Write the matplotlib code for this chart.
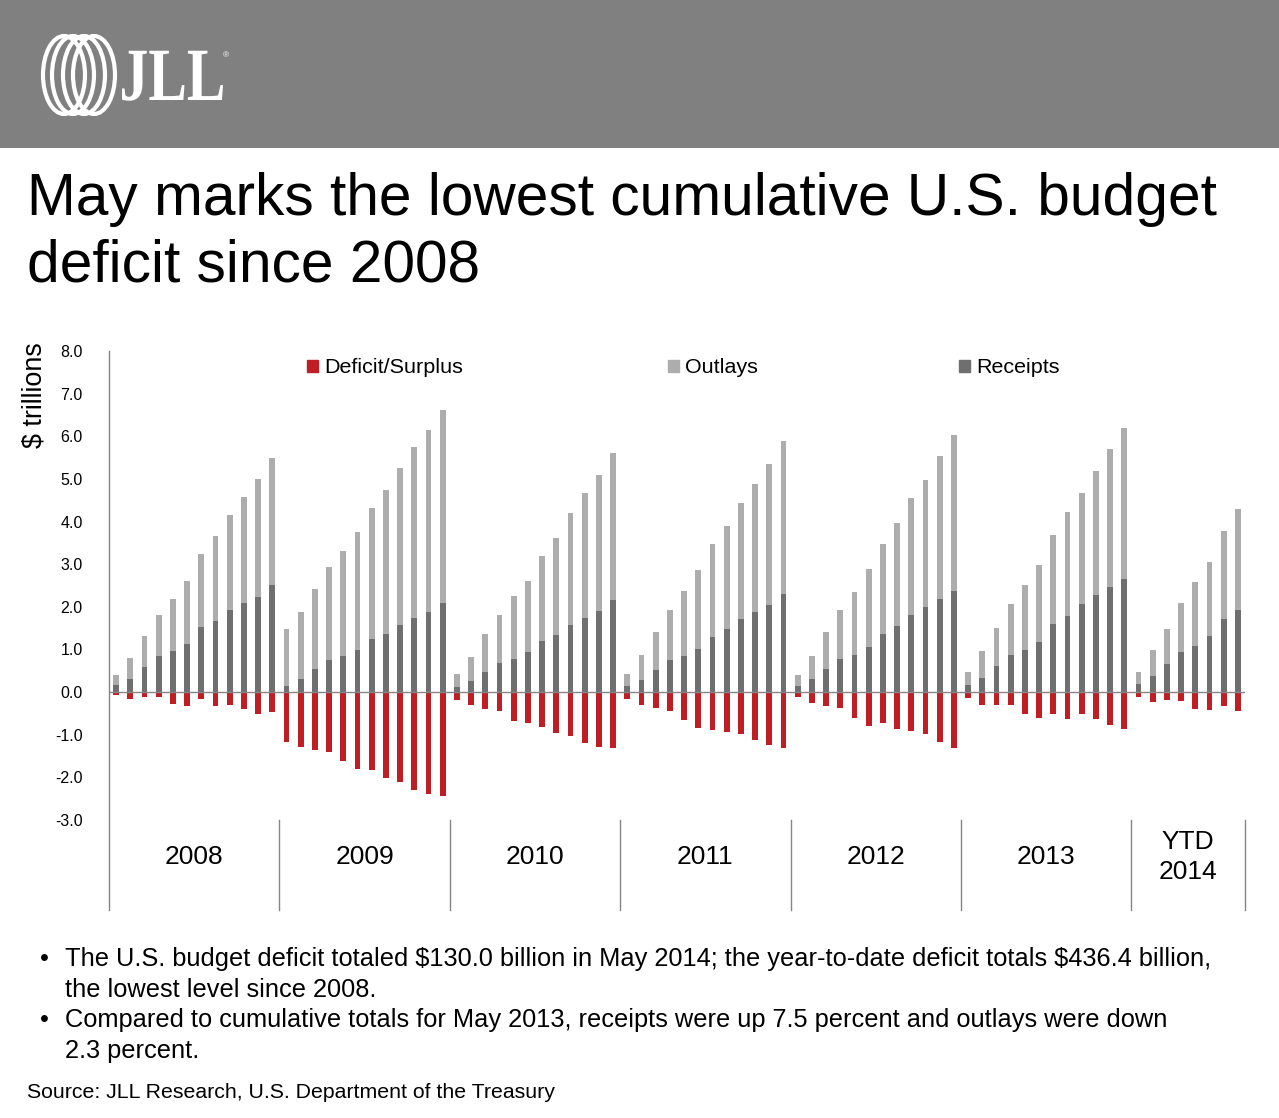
import numpy as np
import matplotlib
matplotlib.use("Agg")
import matplotlib.pyplot as plt
from matplotlib.patches import Patch, Ellipse, PathPatch, Rectangle
from matplotlib.lines import Line2D
from matplotlib.textpath import TextPath
from matplotlib.font_manager import FontProperties
from matplotlib.transforms import Affine2D, blended_transform_factory

plt.rcParams['font.family'] = ['Liberation Sans', 'DejaVu Sans']

# cumulative fiscal values, $ trillions
receipts_2008 = [0.16, 0.30, 0.59, 0.84, 0.96, 1.13, 1.52, 1.66, 1.92, 2.09, 2.23, 2.51]
outlays_2008 = [0.24, 0.50, 0.73, 0.96, 1.22, 1.47, 1.71, 2.00, 2.23, 2.48, 2.76, 2.97]
deficit_2008 = [-0.06, -0.16, -0.11, -0.11, -0.27, -0.32, -0.16, -0.32, -0.30, -0.39, -0.51, -0.46]

receipts_2009 = [0.14, 0.30, 0.54, 0.75, 0.84, 0.98, 1.24, 1.36, 1.57, 1.73, 1.88, 2.09]
outlays_2009 = [1.34, 1.58, 1.87, 2.18, 2.46, 2.77, 3.07, 3.37, 3.68, 4.01, 4.26, 4.52]
deficit_2009 = [-1.16, -1.28, -1.35, -1.40, -1.61, -1.80, -1.82, -2.01, -2.10, -2.29, -2.38, -2.43]

receipts_2010 = [0.12, 0.26, 0.47, 0.68, 0.77, 0.94, 1.20, 1.34, 1.57, 1.73, 1.90, 2.16]
outlays_2010 = [0.30, 0.56, 0.89, 1.12, 1.48, 1.66, 1.99, 2.27, 2.63, 2.94, 3.19, 3.44]
deficit_2010 = [-0.18, -0.30, -0.39, -0.44, -0.67, -0.72, -0.81, -0.95, -1.02, -1.19, -1.28, -1.30]

receipts_2011 = [0.14, 0.28, 0.52, 0.75, 0.84, 1.01, 1.29, 1.48, 1.71, 1.88, 2.04, 2.30]
outlays_2011 = [0.28, 0.59, 0.89, 1.17, 1.53, 1.85, 2.18, 2.41, 2.72, 3.00, 3.30, 3.58]
deficit_2011 = [-0.16, -0.30, -0.37, -0.44, -0.65, -0.84, -0.88, -0.93, -0.98, -1.12, -1.23, -1.30]

receipts_2012 = [0.14, 0.30, 0.54, 0.77, 0.87, 1.05, 1.36, 1.55, 1.80, 1.99, 2.18, 2.37]
outlays_2012 = [0.26, 0.54, 0.87, 1.15, 1.47, 1.83, 2.11, 2.41, 2.75, 2.98, 3.35, 3.65]
deficit_2012 = [-0.11, -0.25, -0.32, -0.37, -0.60, -0.79, -0.72, -0.86, -0.91, -0.98, -1.16, -1.30]

receipts_2013 = [0.16, 0.33, 0.61, 0.87, 0.98, 1.17, 1.59, 1.78, 2.06, 2.27, 2.46, 2.65]
outlays_2013 = [0.31, 0.63, 0.89, 1.19, 1.53, 1.81, 2.09, 2.44, 2.60, 2.91, 3.24, 3.54]
deficit_2013 = [-0.13, -0.30, -0.30, -0.30, -0.51, -0.60, -0.51, -0.63, -0.51, -0.63, -0.77, -0.86]

receipts_2014 = [0.19, 0.38, 0.66, 0.94, 1.08, 1.31, 1.71, 1.92]
outlays_2014 = [0.28, 0.60, 0.82, 1.15, 1.50, 1.74, 2.06, 2.37]
deficit_2014 = [-0.11, -0.23, -0.18, -0.20, -0.39, -0.41, -0.32, -0.44]

year_labels = ["2008", "2009", "2010", "2011", "2012", "2013", "YTD\n2014"]
months_per_year = [12, 12, 12, 12, 12, 12, 8]

receipts = np.array(receipts_2008 + receipts_2009 + receipts_2010 + receipts_2011
                    + receipts_2012 + receipts_2013 + receipts_2014)
outlays = np.array(outlays_2008 + outlays_2009 + outlays_2010 + outlays_2011
                   + outlays_2012 + outlays_2013 + outlays_2014)
deficit = np.array(deficit_2008 + deficit_2009 + deficit_2010 + deficit_2011
                   + deficit_2012 + deficit_2013 + deficit_2014)

RED = '#BE1E24'
LIGHT = '#ADADAD'
DARK = '#6F6F6F'
GRID = '#868686'

W, H = 1279, 1118
fig = plt.figure(figsize=(W / 100, H / 100), dpi=100)

# page layer in pixel coords
bg = fig.add_axes([0, 0, 1, 1], zorder=0)
bg.set_xlim(0, W)
bg.set_ylim(H, 0)
bg.axis('off')

bg.add_patch(Rectangle((0, 0), W, 148, color='#808080', lw=0))
for cx in [64, 73, 84, 94]:
    bg.add_patch(Ellipse((cx, 75), 42, 78, fill=False, ec='white', lw=3.0))
tp = TextPath((0, 0), "JLL", size=1, prop=FontProperties(family='Liberation Serif', weight='bold'))
ext = tp.get_extents()
sx = 101 / ext.width
sy = 50 / ext.height
bg.add_patch(PathPatch(tp, transform=Affine2D().translate(-ext.x0, 0).scale(sx, -sy).translate(122, 100) + bg.transData,
                       fc='white', ec='none'))
bg.text(226, 56, "®", color='white', fontsize=6, ha='center', va='center')

bg.text(27, 215, "May marks the lowest cumulative U.S. budget", fontsize=42.2, va='baseline')
bg.text(27, 282, "deficit since 2008", fontsize=42.2, va='baseline')

bg.text(34, 395, "\\$ trillions", fontsize=19.4, rotation=90, ha='center', va='center')

bullets = [
    ("The U.S. budget deficit totaled \\$130.0 billion in May 2014; the year-to-date deficit totals \\$436.4 billion,",
     "the lowest level since 2008."),
    ("Compared to cumulative totals for May 2013, receipts were up 7.5 percent and outlays were down",
     "2.3 percent."),
]
by = 966
for l1, l2 in bullets:
    bg.text(40, by, "•", fontsize=18.3, va='baseline')
    bg.text(65, by, l1, fontsize=18.3, va='baseline')
    bg.text(65, by + 31, l2, fontsize=18.3, va='baseline')
    by += 61
bg.text(27, 1098, "Source: JLL Research, U.S. Department of the Treasury", fontsize=15.3, va='baseline')

# chart
ax = fig.add_axes([109 / W, 1 - 820 / H, (1245 - 109) / W, (820 - 351) / H], zorder=1)
ax.patch.set_alpha(0)
x = np.arange(len(receipts))
bw = 0.42
ax.bar(x, receipts, width=bw, color=DARK, zorder=2)
ax.bar(x, outlays, width=bw, bottom=receipts, color=LIGHT, zorder=2)
ax.bar(x, deficit, width=bw, color=RED, zorder=2)
ax.axhline(0, color=GRID, lw=1, zorder=3)

ax.set_xlim(-0.5, len(x) - 0.5)
ax.set_ylim(-3, 8)
ax.set_yticks(np.arange(-3, 9))
ax.set_yticklabels(["%.1f" % v for v in np.arange(-3, 9)])
ax.tick_params(axis='y', length=0, pad=19, labelsize=11.5)
ax.set_xticks([])
for s in ax.spines.values():
    s.set_visible(False)

tr = blended_transform_factory(ax.transData, ax.transAxes)
low = -90 / 469
ax.add_line(Line2D([0, 0], [low, 1], transform=ax.transAxes, color=GRID, lw=1, clip_on=False))
start = 0
for lab, n in zip(year_labels, months_per_year):
    end = start + n
    ax.add_line(Line2D([end - 0.5, end - 0.5], [low, 0], transform=tr, color=GRID, lw=1, clip_on=False))
    ax.text((start + end - 1) / 2, -37 / 469, lab, transform=tr, ha='center', va='center',
            fontsize=19, linespacing=1.35)
    start = end

# legend entries placed like the original (evenly spread across the top)
legend_items = [(RED, "Deficit/Surplus", 307), (LIGHT, "Outlays", 668), (DARK, "Receipts", 959)]
for col, lab, lx in legend_items:
    leg = fig.legend([Patch(color=col)], [lab], frameon=False,
                     loc='center left', bbox_to_anchor=(lx / W, 1 - 368 / H), fontsize=15.45,
                     handlelength=0.5, handleheight=0.5, handletextpad=0.3,
                     borderpad=0, borderaxespad=0)

fig.savefig("out.png", dpi=100)
